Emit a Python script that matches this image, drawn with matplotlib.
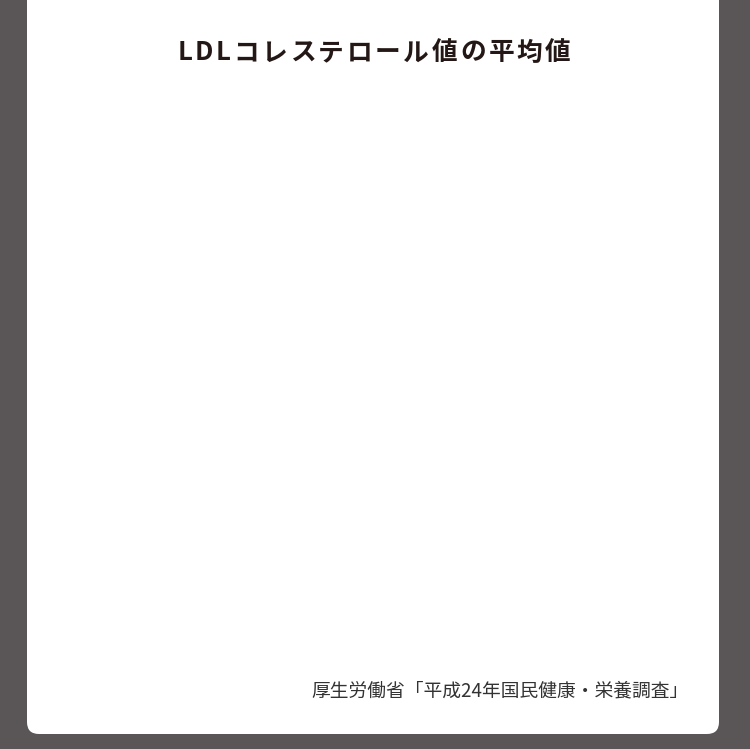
import matplotlib
matplotlib.use('Agg')
import matplotlib.pyplot as plt
from matplotlib.patches import FancyBboxPatch

plt.rcParams['font.family'] = ['Noto Sans CJK JP', 'DejaVu Sans']

title = 'LDLコレステロール値の平均値'
source = '厚生労働省「平成24年国民健康・栄養調査」'

W, H = 750, 749
fig = plt.figure(figsize=(W / 100, H / 100), dpi=100)
fig.patch.set_facecolor('#5a5657')

ax = fig.add_axes([0, 0, 1, 1])
ax.set_xlim(0, W)
ax.set_ylim(H, 0)
ax.axis('off')

card = FancyBboxPatch((27, -20), 692, 754, boxstyle='round,pad=0,rounding_size=12',
                      fc='white', ec='none')
ax.add_patch(card)

# title with letter spacing: place glyphs one by one
renderer = fig.canvas.get_renderer()
track = 2.6
widths = []
for ch in title:
    t = ax.text(0, 0, ch, fontsize=18.5, fontweight='bold')
    widths.append(t.get_window_extent(renderer).width)
    t.remove()
total = sum(widths) + track * (len(title) - 1)
x = 374 - total / 2
for ch, w in zip(title, widths):
    ax.text(x, 53, ch, ha='left', va='center', fontsize=18.5,
            fontweight='bold', color='#231815')
    x += w + track

ax.text(689, 691, source, ha='right', va='center', fontsize=13.5,
        color='#333333')

fig.savefig('out.png', dpi=100, facecolor=fig.get_facecolor())
